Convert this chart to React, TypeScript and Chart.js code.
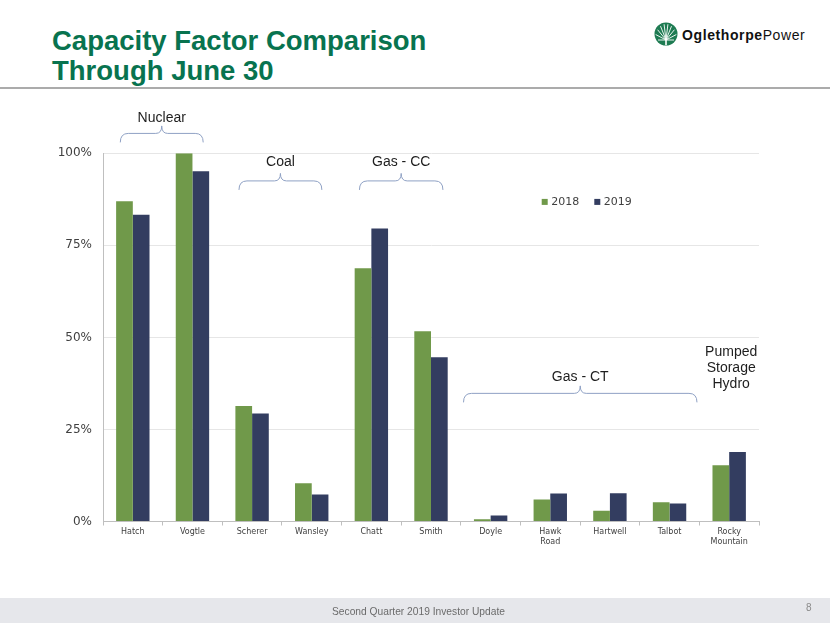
import React, { useEffect, useRef } from "react";
import { Chart, registerables } from "chart.js";

Chart.register(...registerables);

const categories: (string | string[])[] = [
  "Hatch", "Vogtle", "Scherer", "Wansley", "Chatt", "Smith",
  "Doyle", ["Hawk", "Road"], "Hartwell", "Talbot", ["Rocky", "Mountain"],
];
const values2018 = [87.0, 100, 31.4, 10.4, 68.8, 51.7, 0.6, 6.0, 2.9, 5.2, 15.3];
const values2019 = [83.3, 95.1, 29.3, 7.3, 79.6, 44.6, 1.6, 7.6, 7.7, 4.9, 18.9];
const seriesLabels = ["2018", "2019"];
const yTicks = [0, 25, 50, 75, 100];

const groupLabels = ["Nuclear", "Coal", "Gas - CC", "Gas - CT", "Pumped\nStorage\nHydro"];
const groupStart = [0, 2, 4, 6, 10];
const groupEnd = [1, 3, 5, 9, 10];

const GREEN = "#70994A";
const NAVY = "#333D60";
const TITLE_GREEN = "#08734F";

// style of each group annotation: bracket level (in % units), label offset, extension
const groupStyle = [
  { level: 105.4, labelDy: -15, extL: 0.21, extR: 0.18, bracket: true },
  { level: 92.5, labelDy: -18.5, extL: 0.22, extR: 0.17, bracket: true },
  { level: 92.5, labelDy: -18.5, extL: 0.2, extR: 0.2, bracket: true },
  { level: 34.8, labelDy: -16, extL: 0.455, extR: 0.46, bracket: true },
  { level: 46.1, labelDy: 0, extL: 0, extR: 0, bracket: false },
];

const annotationPlugin = {
  id: "groupBrackets",
  afterDraw(chart: any) {
    const { ctx } = chart;
    const x = chart.scales.x;
    const y = chart.scales.y;
    const w = x.getPixelForValue(1) - x.getPixelForValue(0);
    ctx.save();
    groupLabels.forEach((label, g) => {
      const st = groupStyle[g];
      const x1 = x.getPixelForValue(groupStart[g]) - st.extL * w;
      const x2 = x.getPixelForValue(groupEnd[g]) + st.extR * w;
      const xm = (x1 + x2) / 2;
      const yh = y.getPixelForValue(st.level);
      if (st.bracket) {
        const drop = 9;
        const rise = 7.5;
        const r = 8;
        ctx.beginPath();
        ctx.strokeStyle = "#8FA1C4";
        ctx.lineWidth = 1;
        ctx.moveTo(x1, yh + drop);
        ctx.quadraticCurveTo(x1, yh, x1 + r, yh);
        ctx.lineTo(xm - 6, yh);
        ctx.quadraticCurveTo(xm, yh, xm, yh - rise);
        ctx.quadraticCurveTo(xm, yh, xm + 6, yh);
        ctx.lineTo(x2 - r, yh);
        ctx.quadraticCurveTo(x2, yh, x2, yh + drop);
        ctx.stroke();
      }
      ctx.fillStyle = "#1e1e1e";
      ctx.font = "14px 'Liberation Sans', Arial, sans-serif";
      ctx.textAlign = "center";
      ctx.textBaseline = "middle";
      const lines = label.split("\n");
      lines.forEach((ln, i) => {
        ctx.fillText(ln, xm + (st.bracket ? 0 : 2), yh + st.labelDy + i * 16.3);
      });
    });

    // legend
    const legendX = 541.7;
    const legendY = y.getPixelForValue(86.8);
    ctx.font = "11px 'DejaVu Sans', Verdana, sans-serif";
    ctx.textAlign = "left";
    ctx.textBaseline = "middle";
    chart.data.datasets.forEach((ds: any, i: number) => {
      const lx = legendX + i * 52.6;
      ctx.fillStyle = ds.backgroundColor;
      ctx.fillRect(lx, legendY - 3, 6, 6);
      ctx.fillStyle = "#404040";
      ctx.fillText(ds.label, lx + 9.5, legendY + 0.5);
    });
    ctx.restore();
  },
};

function Logo() {
  const rays = [-70, -50, -30, -10, 10, 30, 50, 70];
  return (
    <svg width={26} height={26} style={{ position: "absolute", left: 653, top: 21 }} viewBox="0 0 26 26">
      <circle cx={13} cy={13} r={11.5} fill="#1E7B52" />
      {rays.map((a, i) => {
        const rad = (a * Math.PI) / 180;
        const x2 = 13 + Math.sin(rad) * 11;
        const y2 = 19 - Math.cos(rad) * 16;
        return <line key={i} x1={13} y1={19} x2={x2} y2={Math.max(y2, 2)} stroke="#ffffff" strokeWidth={0.9} />;
      })}
      <line x1={5} y1={19} x2={21} y2={19} stroke="#ffffff" strokeWidth={0.9} />
      <line x1={13} y1={19} x2={13} y2={24} stroke="#ffffff" strokeWidth={1.6} />
    </svg>
  );
}

export default function App() {
  const canvasRef = useRef<HTMLCanvasElement | null>(null);

  useEffect(() => {
    if (!canvasRef.current) return;
    const chart = new Chart(canvasRef.current, {
      type: "bar",
      data: {
        labels: categories,
        datasets: [
          { label: seriesLabels[0], data: values2018, backgroundColor: GREEN, categoryPercentage: 0.56, barPercentage: 1 },
          { label: seriesLabels[1], data: values2019, backgroundColor: NAVY, categoryPercentage: 0.56, barPercentage: 1 },
        ],
      },
      options: {
        animation: false,
        responsive: false,
        maintainAspectRatio: false,
        layout: { padding: { top: 153.3, right: 71, bottom: 0, left: 0 } },
        plugins: { legend: { display: false }, tooltip: { enabled: false } },
        scales: {
          x: {
            grid: { drawOnChartArea: false, drawTicks: true, tickLength: 4, color: "#BFBFBF" },
            border: { display: true, color: "#BFBFBF", width: 1 },
            ticks: {
              color: "#404040",
              font: { family: "'DejaVu Sans', Verdana, sans-serif", size: 8, lineHeight: 1.2 },
              padding: 2,
              maxRotation: 0,
              autoSkip: false,
            },
            afterFit: (s: any) => { s.height = 101.5; },
          },
          y: {
            min: 0,
            max: 100,
            afterBuildTicks: (s: any) => { s.ticks = yTicks.map((v) => ({ value: v })); },
            grid: { drawTicks: false, color: "#E6E6E6" },
            border: { display: true, color: "#BFBFBF", width: 1 },
            ticks: {
              color: "#404040",
              font: { family: "'DejaVu Sans', Verdana, sans-serif", size: 12 },
              padding: 11,
              callback: (v: any) => `${v}%`,
            },
            afterFit: (s: any) => { s.width = 103; },
          },
        },
      },
      plugins: [annotationPlugin],
    });
    return () => chart.destroy();
  }, []);

  return (
    <div style={{ position: "absolute", left: 0, top: 0, width: 830, height: 623, background: "#ffffff", overflow: "hidden", fontFamily: "'Liberation Sans', Arial, sans-serif" }}>
      <div style={{ position: "absolute", left: 0, top: 597.7, width: 830, height: 26, background: "#E6E7EB" }} />
      <div style={{ position: "absolute", left: 52, top: 25.5, fontSize: 27.5, lineHeight: "30px", fontWeight: "bold", color: TITLE_GREEN, whiteSpace: "nowrap" }}>
        Capacity Factor Comparison
        <br />
        Through June 30
      </div>
      <div style={{ position: "absolute", left: 0, top: 86.7, width: 830, height: 2, background: "#ABABAB" }} />
      <Logo />
      <div style={{ position: "absolute", left: 682, top: 27.6, fontSize: 14, lineHeight: "14px", letterSpacing: 0.6, color: "#111", whiteSpace: "nowrap" }}>
        <span style={{ fontWeight: "bold" }}>Oglethorpe</span>
        <span>Power</span>
      </div>
      <canvas ref={canvasRef} width={830} height={623} style={{ position: "absolute", left: 0, top: 0, width: 830, height: 623 }} />
      <div style={{ position: "absolute", left: 332.3, top: 605, fontSize: 11.5, lineHeight: "12px", color: "#6B6B6B", whiteSpace: "nowrap", transform: "scaleX(0.89)", transformOrigin: "left top" }}>
        Second Quarter 2019 Investor Update
      </div>
      <div style={{ position: "absolute", left: 806, top: 602, fontSize: 10, lineHeight: "12px", color: "#8A8A8A" }}>8</div>
    </div>
  );
}
